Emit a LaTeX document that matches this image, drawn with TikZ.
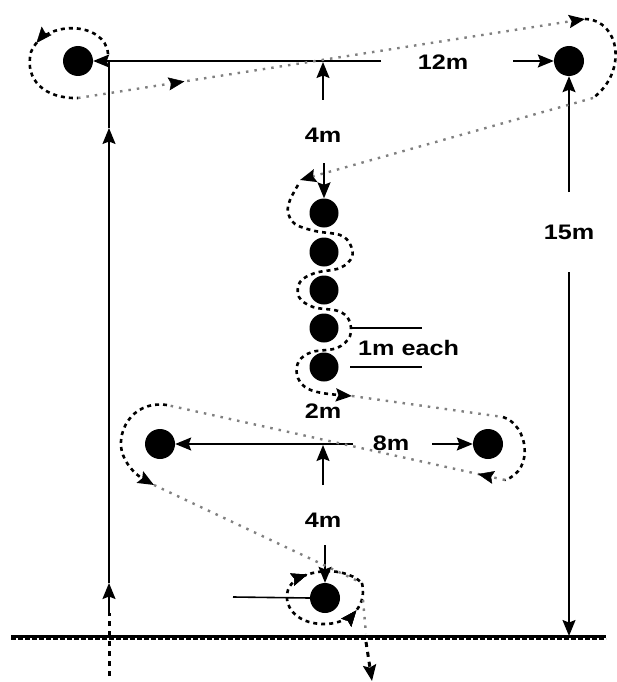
\documentclass[tikz,border=0pt]{standalone}
\usepackage{fontspec}
\setmainfont{Liberation Sans}
\usetikzlibrary{arrows.meta,decorations.markings}
\newcommand\wl[1]{\scalebox{1.2}[1]{\bfseries #1}}
\tikzset{
 dot/.style={circle,fill=black,inner sep=0pt,minimum size=30pt},
 cdot/.style={dot,minimum size=29pt},
 lbl/.style={font=\fontsize{21}{21}\selectfont, inner sep=1pt},
 dim/.style={line width=1.6pt, -{Stealth[length=16pt,width=13pt,inset=2.5pt]}},
 endarr/.style={-{Stealth[length=16pt,width=13pt,inset=2.5pt,color=black]}},
 plain/.style={line width=1.6pt},
 gdot/.style={draw=black!50, line width=2.4pt, dash pattern=on 2.5pt off 6pt},
 bdash/.style={draw=black, line width=2.6pt, dash pattern=on 4pt off 4pt},
 midarr/.style={decoration={markings, mark=at position #1 with {\arrow[black,line width=0.5pt]{Stealth[length=16pt,width=13pt,inset=2.5pt]}}}, postaction={decorate}},
 midarrrev/.style={decoration={markings, mark=at position #1 with {\arrowreversed[black,line width=0.5pt]{Stealth[length=16pt,width=13pt,inset=2.5pt]}}}, postaction={decorate}},
}
\begin{document}
\begin{tikzpicture}[x=1pt,y=-1pt]
\useasboundingbox (0,0) rectangle (616,682);
% dots
\node[dot] (TL) at (78,61) {};
\node[dot] (TR) at (569,61) {};
\node[cdot] (C1) at (324,213) {};
\node[cdot] (C2) at (324,252) {};
\node[cdot] (C3) at (324,290) {};
\node[cdot] (C4) at (324,328) {};
\node[cdot] (C5) at (324,367) {};
\node[dot] (ML) at (160,444) {};
\node[dot] (MR) at (488,444) {};
\node[dot] (B) at (325,598) {};
% labels
\node[lbl] (l12) at (443,62) {\wl{12m}};
\node[lbl] (l4a) at (323,135) {\wl{4m}};
\node[lbl] (l15) at (569,232) {\wl{15m}};
\node[lbl,anchor=west] (l1) at (357,348) {\wl{1m each}};
\node[lbl] (l2) at (323,411) {\wl{2m}};
\node[lbl] (l8) at (391,443) {\wl{8m}};
\node[lbl] (l4b) at (323,520) {\wl{4m}};
% coordinates
\coordinate (T1) at (381,61);
\coordinate (T2) at (513,61);
\coordinate (V1) at (323,100);
\coordinate (V1t) at (323,62);
\coordinate (V2) at (324,163);
\coordinate (LB) at (109,613);
\coordinate (LA1) at (109,583);
\coordinate (LA2) at (109,128);
\coordinate (LT) at (109,61);
\coordinate (LS) at (109,676);
\coordinate (R1) at (569,192);
\coordinate (R2) at (569,272);
\coordinate (RG) at (569,636);
\coordinate (M1) at (353,444);
\coordinate (M2) at (432,444);
\coordinate (MV) at (323,485);
\coordinate (MVt) at (323,445);
\coordinate (BV) at (325,545);
\coordinate (BH) at (233,597);
\coordinate (E1a) at (350,328);
\coordinate (E1b) at (422,328);
\coordinate (E2a) at (350,367);
\coordinate (E2b) at (422,367);
\coordinate (G1) at (11,636);
\coordinate (G2) at (606,636);
\coordinate (G3) at (11,639);
\coordinate (G4) at (606,639);
% ground
\draw[line width=3pt] (G1) -- (G2);
\draw[line width=2.4pt, dash pattern=on 5pt off 2pt] (G3) -- (G4);
% dimension lines
\draw[dim] (T1) -- (TL.east);
\draw[dim] (T2) -- (TR.west);
\draw[dim] (V1) -- (V1t);
\draw[dim] (V2) -- (C1.north);
\draw[dim] (LB) -- (LA1);
\draw[dim] (LA1) -- (LA2);
\draw[plain] (LA2) -- (LT);
\draw[bdash, line width=3pt, dash pattern=on 5pt off 5pt] (LS) -- (LB);
\draw[dim] (R1) -- (TR.south);
\draw[dim] (R2) -- (RG);
\draw[dim] (M1) -- (ML.east);
\draw[dim] (M2) -- (MR.west);
\draw[dim] (MV) -- (MVt);
\draw[dim] (BV) -- (B.north);
\draw[plain] (BH) -- (B.west);
\draw[plain] (E1a) -- (E1b);
\draw[plain] (E2a) -- (E2b);
% running route
\coordinate (P1) at (108,54);
\coordinate (P2) at (78,98);
\coordinate (P3) at (585,19);
\coordinate (P4) at (593,98);
\coordinate (P5) at (300,180);
\coordinate (P6) at (352,396);
\coordinate (P7) at (503,417);
\coordinate (P8) at (505,480);
\coordinate (P9) at (167,405);
\coordinate (P10) at (154,485);
\coordinate (P11) at (362,583);
\coordinate (P12) at (363,600);
\coordinate (P13) at (366,634);
\coordinate (P14) at (366,642);
\coordinate (P15) at (372,681);
\draw[bdash, midarr=0.5] (P1) .. controls (106,22) and (45,18) .. (31,52) .. controls (24,80) and (45,99) .. (P2);
\draw[gdot, midarr=0.21, endarr] (P2) -- (P3);
\draw[bdash] (P3) .. controls (620,20) and (628,72) .. (P4);
\draw[gdot, endarr] (P4) -- (P5);
\draw[bdash, endarr] plot[smooth, tension=0.6] coordinates {(298,185) (290,200) (288,212) (295,224) (315,231) (340,235) (350,244) (352,257) (340,268) (315,273) (300,282) (299,297) (313,307) (338,311) (349,320) (350,336) (337,348) (312,352) (299,361) (297,375) (305,387) (322,393) (P6)};
\draw[gdot] (P6) -- (P7);
\draw[bdash] (P7) .. controls (528,425) and (535,470) .. (P8);
\draw[gdot, midarr=0.08] (P8) -- (P9);
\draw[bdash, endarr] (P9) .. controls (130,400) and (115,435) .. (123,455) .. controls (128,468) and (138,476) .. (P10);
\draw[gdot] (P10) -- (P11);
\draw[bdash, midarrrev=0.14, midarr=0.72] (P11) .. controls (368,610) and (345,625) .. (322,624) .. controls (295,623) and (283,605) .. (288,590) .. controls (293,572) and (340,562) .. (P11);
\draw[gdot] (P12) -- (P13);
\draw[bdash, line width=3pt, dash pattern=on 5pt off 5pt, endarr] (P14) -- (P15);
\end{tikzpicture}
\end{document}
